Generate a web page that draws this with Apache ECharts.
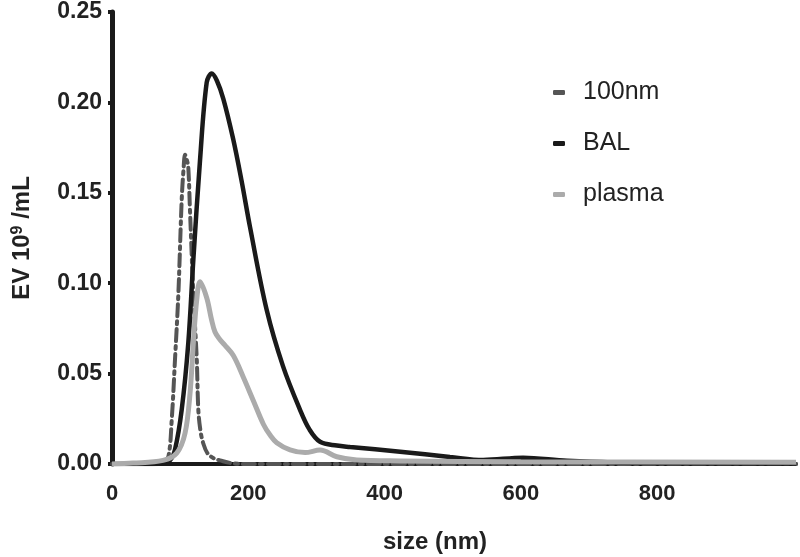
<!DOCTYPE html>
<html>
<head>
<meta charset="utf-8">
<script src="https://cdn.jsdelivr.net/npm/echarts@6/dist/echarts.min.js"></script>
<style>html,body{margin:0;padding:0;background:#fff}#c{width:800px;height:557px}</style>
</head>
<body>
<div id="c"></div>
<script>
// size (nm), EV 10^9/mL
const seriesNames = ['100nm', 'BAL', 'plasma'];
const xTicks = [0, 200, 400, 600, 800];
const yTicks = [0, 0.05, 0.10, 0.15, 0.20, 0.25];

const data100nm = [
  [0, 0], [60, 0], [75, 0.001], [82.7, 0.004], [87.6, 0.024], [92.5, 0.058],
  [97.4, 0.094], [102.3, 0.146], [105, 0.163], [107.2, 0.171], [110, 0.168],
  [112, 0.164], [114.5, 0.140], [119.4, 0.094], [124.4, 0.058], [126.7, 0.030],
  [130, 0.018], [134, 0.0114], [140, 0.006], [150, 0.003], [158.6, 0.002],
  [175, 0.0005], [200, 0], [1004, 0]
];
const dataBAL = [
  [0, 0], [60, 0], [75, 0.0005], [85.2, 0.002], [92.5, 0.008], [102.3, 0.030],
  [112, 0.067], [119.4, 0.113], [129.2, 0.168], [139, 0.211], [146.4, 0.216],
  [154, 0.212], [163.4, 0.202], [177.7, 0.180], [190, 0.157], [202.6, 0.131],
  [227.2, 0.085], [251.1, 0.054], [276, 0.030], [290, 0.019], [305.4, 0.0123],
  [330, 0.0102], [349.5, 0.0094], [423, 0.0068], [496, 0.0039], [545, 0.0022],
  [603.5, 0.0035], [668, 0.0018], [790, 0.0005], [1004, 0.0003]
];
const dataPlasma = [
  [0, 0], [30.8, 0.0005], [74.9, 0.002], [95, 0.006], [107.2, 0.017],
  [114.5, 0.039], [119.4, 0.067], [124.4, 0.091], [129.2, 0.1008], [139, 0.092],
  [146, 0.080], [151.2, 0.073], [158, 0.069], [165, 0.066], [178.1, 0.060],
  [192.8, 0.048], [207.5, 0.035], [222.2, 0.022], [232, 0.016], [241.8, 0.0118],
  [261.4, 0.0078], [283.4, 0.0063], [305.4, 0.0077], [330, 0.004], [359.3, 0.0022],
  [423, 0.0017], [600, 0.0012], [1004, 0.001]
];

const colors = ['#555555', '#1a1a1a', '#ababab'];

const chart = echarts.init(document.getElementById('c'), null, {renderer: 'canvas'});
chart.setOption({
  animation: false,
  backgroundColor: '#ffffff',
  grid: {left: 112, right: 4, top: 12, bottom: 93, containLabel: false, outerBoundsMode: 'none'},
  legend: {
    orient: 'vertical',
    left: 548,
    top: 75,
    itemGap: 26,
    itemWidth: 12,
    itemHeight: 5,
    icon: 'roundRect',
    data: seriesNames,
    textStyle: {fontFamily: 'Liberation Sans', fontSize: 25, color: '#222', padding: [0, 0, 0, 13]}
  },
  xAxis: {
    type: 'value',
    min: 0,
    max: 1004,
    interval: 200,
    name: 'size (nm)',
    nameLocation: 'middle',
    nameGap: 66,
    nameTextStyle: {fontFamily: 'Liberation Sans', fontWeight: 'bold', fontSize: 24, color: '#222', padding: [0, 38, 0, 0]},
    axisLine: {show: true, onZero: false, lineStyle: {color: '#1a1a1a', width: 4}},
    axisTick: {show: false},
    splitLine: {show: false},
    axisLabel: {
      margin: 19,
      fontFamily: 'Liberation Sans', fontWeight: 'bold', fontSize: 22, color: '#222',
      formatter: v => xTicks.indexOf(v) >= 0 ? String(v) : ''
    }
  },
  yAxis: {
    type: 'value',
    min: 0,
    max: 0.25,
    interval: 0.05,
    name: 'EV 10{sup|9} /mL',
    nameLocation: 'middle',
    nameGap: 78,
    nameRotate: 90,
    nameTextStyle: {
      fontFamily: 'Liberation Sans', fontWeight: 'bold', fontSize: 24, color: '#222',
      rich: {sup: {fontFamily: 'Liberation Sans', fontWeight: 'bold', fontSize: 16, color: '#222', padding: [0, 0, 8, 0]}}
    },
    axisLine: {show: true, lineStyle: {color: '#1a1a1a', width: 5}},
    axisTick: {show: true, length: 4, lineStyle: {color: '#1a1a1a', width: 4}},
    splitLine: {show: false},
    axisLabel: {
      margin: 10,
      fontFamily: 'Liberation Sans', fontWeight: 'bold', fontSize: 23, color: '#222',
      formatter: v => yTicks.some(t => Math.abs(t - v) < 1e-9) ? v.toFixed(2) : ''
    }
  },
  series: [
    {
      name: seriesNames[0], type: 'line', data: data100nm, showSymbol: false, symbol: 'none',
      smooth: 0.35, z: 3,
      itemStyle: {color: colors[0]},
      lineStyle: {color: colors[0], width: 4, type: [12, 5, 3, 5], cap: 'round'}
    },
    {
      name: seriesNames[1], type: 'line', data: dataBAL, showSymbol: false, symbol: 'none',
      smooth: 0.35, z: 4,
      itemStyle: {color: colors[1]},
      lineStyle: {color: colors[1], width: 4.5}
    },
    {
      name: seriesNames[2], type: 'line', data: dataPlasma, showSymbol: false, symbol: 'none',
      smooth: 0.35, z: 5,
      itemStyle: {color: colors[2]},
      lineStyle: {color: colors[2], width: 5}
    }
  ]
});
</script>
</body>
</html>
